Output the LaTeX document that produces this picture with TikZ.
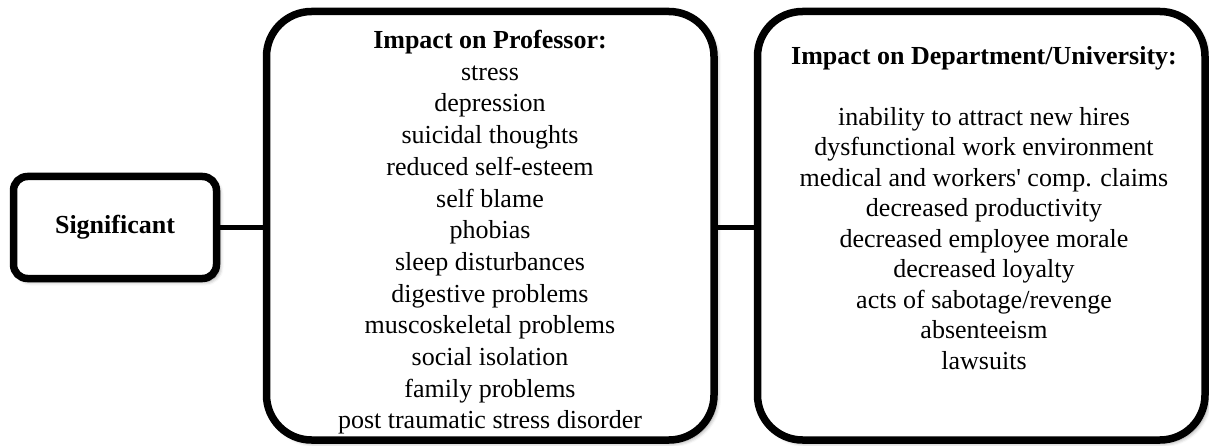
\documentclass[tikz,border=0pt]{standalone}
\usepackage{fontspec}
\setmainfont{Liberation Serif}[Ligatures=TeXOff]
\usetikzlibrary{shadows.blur}
\begin{document}
\begin{tikzpicture}[x=1pt,y=-1pt,
  box/.style={draw=black, line width=7.5pt, fill=white, inner sep=0pt,
    blur shadow={shadow xshift=3pt, shadow yshift=-3pt, shadow blur radius=4pt, shadow opacity=45}},
  bigbox/.style={box, rounded corners=45pt, minimum width=447.5pt, minimum height=428.5pt},
  smallbox/.style={box, rounded corners=14pt, minimum width=203pt, minimum height=102pt,
    font=\fontsize{26}{29.9}\selectfont\bfseries},
  listtext/.style={inner sep=0pt, align=center, anchor=north},
  proflist/.style={listtext, font=\fontsize{26}{31.7}\selectfont},
  deptlist/.style={listtext, font=\fontsize{26}{30.5}\selectfont},
  link/.style={draw=black, line width=4.5pt}]
\useasboundingbox (0,0) rectangle (1209,446);

% left box
\node[smallbox] (sig) at (115,227.5) {Significant};

% middle box: effects on the professor
\node[bigbox] (prof) at (490.25,225.75) {};
\node[proflist] (proftext) at (490,30) {\textbf{Impact on Professor:}\\
  stress\\ depression\\ suicidal thoughts\\ reduced self-esteem\\ self blame\\
  phobias\\ sleep disturbances\\ digestive problems\\ muscoskeletal problems\\
  social isolation\\ family problems\\ post traumatic stress disorder};

% right box: effects on the institution
\node[bigbox] (dept) at (981.25,225.75) {};
\node[deptlist] (depttext) at (984,46) {\textbf{Impact on Department/University:}\\
  \mbox{}\\
  inability to attract new hires\\ dysfunctional work environment\\
  medical and workers' comp. claims\\ decreased productivity\\
  decreased employee morale\\ decreased loyalty\\ acts of sabotage/revenge\\
  absenteeism\\ lawsuits};

% connectors
\draw[link] (sig.east) -- (sig.east -| prof.west);
\draw[link] (prof.east |- sig.east) -- (dept.west |- sig.east);
\end{tikzpicture}
\end{document}
